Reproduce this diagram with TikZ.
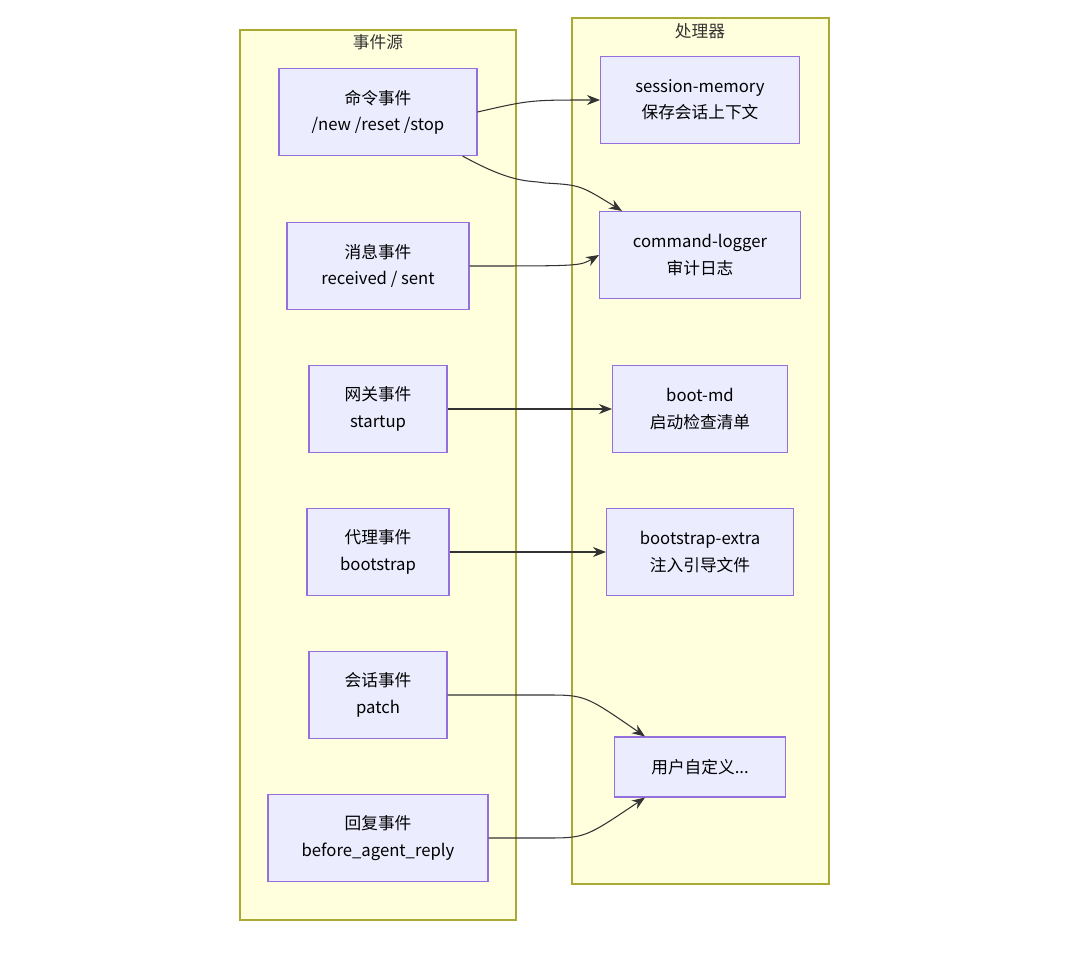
\documentclass[tikz,border=0pt]{standalone}
\usepackage{fontspec}
\setmainfont{Noto Sans CJK SC}
\usetikzlibrary{positioning,arrows.meta}
\definecolor{boxfill}{HTML}{ECECFF}
\definecolor{boxline}{HTML}{9370DB}
\definecolor{grpfill}{HTML}{FFFFDE}
\definecolor{grpline}{HTML}{AAAA33}
\definecolor{linkc}{HTML}{333333}
\tikzset{
  group/.style={draw=grpline, fill=grpfill, line width=0.6pt},
  box/.style={draw=boxline, fill=boxfill, line width=0.6pt, align=center,
              minimum height=1.74cm, inner sep=2pt, font=\fontsize{9.5}{15}\selectfont},
  grouptitle/.style={font=\fontsize{9.5}{12}\selectfont, text=linkc},
  link/.style={-{Stealth[length=2.6mm,width=2mm]}, draw=linkc, line width=0.6pt},
}
\begin{document}
\begin{tikzpicture}[x=0.02cm, y=-0.02cm]
\useasboundingbox (0,0) rectangle (1080,953);
%Groups
\draw[group] (240,30) rectangle (516,920);
\draw[group] (572,18) rectangle (829,884);
\node[grouptitle] (srctitle) at (378,42) {事件源};
\node[grouptitle] (proctitle) at (700,31) {处理器};

%Sources
\node[box, minimum width=3.96cm] (cmd) at (378,112) {命令事件\\/new /reset /stop};
\node[box, minimum width=3.64cm] (msg) at (378,266) {消息事件\\received / sent};
\node[box, minimum width=2.76cm] (gw) at (378,409) {网关事件\\startup};
\node[box, minimum width=2.84cm] (agent) at (378,552) {代理事件\\bootstrap};
\node[box, minimum width=2.76cm] (sess) at (378,695) {会话事件\\patch};
\node[box, minimum width=4.40cm] (reply) at (378,838) {回复事件\\before\_agent\_reply};

%Handlers
\node[box, minimum width=3.98cm] (mem) at (700,100) {session-memory\\保存会话上下文};
\node[box, minimum width=4.02cm] (logger) at (700,255) {command-logger\\审计日志};
\node[box, minimum width=3.50cm] (bootmd) at (700,409) {boot-md\\启动检查清单};
\node[box, minimum width=3.74cm] (extra) at (700,552) {bootstrap-extra\\注入引导文件};
\node[box, minimum width=3.42cm, minimum height=1.2cm] (custom) at (700,767) {用户自定义...};

%Lines
\draw[link] (cmd.east) .. controls (530,100) .. (mem.west);
\draw[link] ([xshift=-0.3cm]cmd.south east) .. controls (515,185) and (530,180) .. (545,183) .. controls (580,185) .. ([xshift=-1.56cm]logger.north);
\draw[link] (msg.east) .. controls (580,266) .. (logger.west);
\draw[link] (gw.east) -- (bootmd.west);
\draw[link] (agent.east) -- (extra.west);
\draw[link] (sess.east) -- (545,695) .. controls (585,695) .. ([xshift=-1.1cm]custom.north);
\draw[link] (reply.east) -- (545,838) .. controls (585,838) .. ([xshift=-1.1cm]custom.south);
\end{tikzpicture}
\end{document}
